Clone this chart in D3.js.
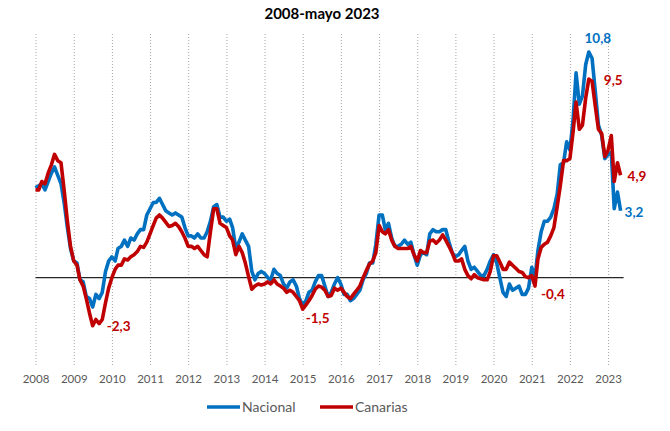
<!DOCTYPE html>
<html>
<head>
<meta charset="utf-8">
<script src="https://cdn.jsdelivr.net/npm/d3@7/dist/d3.min.js"></script>
<style>
  body { margin: 0; background: #fff; }
  svg { display: block; font-family: Lato, "Open Sans", sans-serif; }
</style>
</head>
<body>
<div id="chart"></div>
<script>

// IPC, tasa de variacion anual (%), enero 2008 - mayo 2023
var years = ['2008','2009','2010','2011','2012','2013','2014','2015',
             '2016','2017','2018','2019','2020','2021','2022','2023'];

var nacional = [
   4.3, 4.4, 4.5, 4.2, 4.6, 5.0, 5.3, 4.9, 4.5, 3.6, 2.4, 1.4,
   0.8, 0.7,-0.1,-0.2,-0.9,-1.0,-1.4,-0.8,-1.0,-0.7, 0.3, 0.8,
   1.0, 0.8, 1.4, 1.5, 1.8, 1.5, 1.9, 1.8, 2.1, 2.3, 2.3, 3.0,
   3.3, 3.6, 3.6, 3.8, 3.5, 3.2, 3.1, 3.0, 3.1, 3.0, 2.9, 2.4,
   2.0, 2.0, 1.9, 2.1, 1.9, 1.9, 2.2, 2.7, 3.4, 3.5, 2.9, 2.9,
   2.7, 2.8, 2.4, 1.4, 1.7, 2.1, 1.8, 1.5, 0.3,-0.1, 0.2, 0.3,
   0.2, 0.0,-0.1, 0.4, 0.2, 0.1,-0.3,-0.5,-0.2,-0.1,-0.4,-1.0,
  -1.3,-1.1,-0.7,-0.6,-0.2, 0.1, 0.1,-0.4,-0.9,-0.7,-0.3, 0.0,
  -0.3,-0.8,-0.8,-1.1,-1.0,-0.8,-0.6,-0.1, 0.2, 0.7, 0.7, 1.6,
   3.0, 3.0, 2.3, 2.6, 1.9, 1.5, 1.5, 1.6, 1.8, 1.6, 1.7, 1.1,
   0.6, 1.1, 1.2, 1.1, 2.1, 2.3, 2.2, 2.2, 2.3, 2.3, 1.7, 1.2,
   1.0, 1.1, 1.3, 1.5, 0.8, 0.4, 0.5, 0.3, 0.1, 0.1, 0.4, 0.8,
   1.1, 0.7, 0.0,-0.7,-0.9,-0.3,-0.6,-0.5,-0.4,-0.8,-0.8,-0.5,
   0.5, 0.0, 1.3, 2.2, 2.7, 2.7, 2.9, 3.3, 4.0, 5.4, 5.5, 6.5,
   6.1, 7.6, 9.8, 8.3, 8.7,10.2,10.8,10.5, 8.9, 7.3, 6.8, 5.7,
   5.9, 6.0, 3.3, 4.1, 3.2
];

var canarias = [
   4.2, 4.2, 4.6, 4.5, 5.0, 5.4, 5.9, 5.6, 5.5, 4.2, 2.7, 1.5,
   0.8, 0.6,-0.1,-0.4,-1.0,-1.7,-2.3,-2.0,-2.2,-2.0,-1.2,-0.5,
   0.0, 0.4, 0.6, 0.6, 0.9, 0.85,1.0, 1.1, 1.25,1.5, 1.45,1.7,
   2.1, 2.5, 2.85,3.0, 2.85,2.65,2.45,2.5, 2.6, 2.45,2.2, 1.9,
   1.5, 1.5, 1.4, 1.5, 1.3, 1.1, 1.0, 2.2, 3.3, 3.3, 2.6, 2.5,
   2.4, 2.0, 1.8, 1.1, 1.5, 1.2, 0.7, 0.05,-0.55,-0.4,-0.3,-0.35,
  -0.3,-0.2,-0.3,-0.1,-0.3,-0.4,-0.5,-0.7,-0.6,-0.7,-0.9,-1.1,
  -1.5,-1.3,-1.1,-0.85,-0.55,-0.4,-0.45,-0.6,-0.9,-0.85,-0.5,-0.6,
  -0.5,-0.7,-0.9,-1.0,-0.8,-0.6,-0.4, 0.0, 0.35,0.65,0.8, 1.2,
   2.5, 2.2, 2.1, 2.3, 1.8, 1.5, 1.4, 1.4, 1.4, 1.4, 1.5, 1.1,
   0.8, 1.3, 1.2, 1.2, 1.75,1.8, 1.65,1.8, 2.05,1.8, 1.5, 1.2,
   0.8, 0.8, 0.9, 0.4, 0.1,-0.05,0.15,0.0,-0.05,-0.1,-0.1, 0.3,
   1.05,1.05,0.75,0.4, 0.4, 0.75,0.6, 0.45,0.3, 0.25,0.05,0.0,
   0.1,-0.4, 0.9, 1.45,1.6, 1.7, 2.0, 2.4, 3.4, 4.4, 5.6, 5.6,
   5.7, 7.0, 8.4, 7.1, 7.3, 8.6, 9.5, 9.4, 8.2, 7.1, 6.9, 5.8,
   6.1, 6.8, 4.6, 5.5, 4.9
];

var seriesNames = ['Nacional', 'Canarias'];

// valores destacados: serie, mes (indice), texto
var highlights = [
  {serie: 'Nacional', idx: 174, text: '10,8'},
  {serie: 'Canarias', idx: 174, text: '9,5'},
  {serie: 'Canarias', idx: 184, text: '4,9'},
  {serie: 'Nacional', idx: 184, text: '3,2'},
  {serie: 'Canarias', idx: 18,  text: '-2,3'},
  {serie: 'Canarias', idx: 84,  text: '-1,5'},
  {serie: 'Canarias', idx: 157, text: '-0,4'}
];


var width = 670, height = 431;
var colors = {'Nacional': '#0070C0', 'Canarias': '#C00000'};
var gridTop = 33, gridBottom = 365;

var months = nacional.map(function(d, i){ return new Date(2008, i, 1); });
var values = {'Nacional': nacional, 'Canarias': canarias};

var x = d3.scaleTime()
    .domain([months[0], months[months.length - 1]])
    .range([35.5, 620.6]);

var y = d3.scaleLinear()
    .domain([-4, 12])
    .range([361.3, 26.9]);

var svg = d3.select('#chart').append('svg')
    .attr('width', width)
    .attr('height', height);

// title
svg.append('text')
    .attr('x', 322)
    .attr('y', 19)
    .attr('text-anchor', 'middle')
    .style('font-size', '15px')
    .style('font-weight', 'bold')
    .style('fill', '#000')
    .text('2008-mayo 2023');

// year gridlines + labels
var yearDates = years.map(function(d){ return new Date(+d, 0, 1); });

var axis = svg.append('g')
    .attr('transform', 'translate(0,' + gridBottom + ')')
    .call(d3.axisBottom(x)
        .tickValues(yearDates)
        .tickFormat(function(d, i){ return years[i]; })
        .tickSize(-(gridBottom - gridTop))
        .tickPadding(10));

axis.select('.domain').remove();
axis.selectAll('.tick line')
    .attr('stroke', '#a6a6a6')
    .attr('stroke-dasharray', '1,2');
axis.selectAll('.tick text')
    .style('font-size', '11.5px')
    .style('font-family', 'Lato, sans-serif')
    .style('fill', '#595959');

// zero line
svg.append('line')
    .attr('x1', x(months[0]))
    .attr('x2', x(months[months.length - 1]) + 3)
    .attr('y1', y(0))
    .attr('y2', y(0))
    .attr('stroke', '#262626')
    .attr('stroke-width', 1.2);

// series
var line = d3.line()
    .x(function(d, i){ return x(months[i]); })
    .y(function(d){ return y(d); })
    .curve(d3.curveLinear);

seriesNames.forEach(function(name){
    svg.append('path')
        .datum(values[name])
        .attr('fill', 'none')
        .attr('stroke', colors[name])
        .attr('stroke-width', 3.6)
        .attr('stroke-linejoin', 'round')
        .attr('d', line);
});

// highlighted values
var offsets = {
  '10,8': [9, -14, 'middle'],
  '9,5':  [15, 1, 'start'],
  '4,9':  [7, 1, 'start'],
  '3,2':  [4, 1, 'start'],
  '-2,3': [14, 1, 'start'],
  '-1,5': [3, 9, 'start'],
  '-0,4': [6, 8, 'start']
};

svg.selectAll('.hl')
    .data(highlights).enter()
    .append('text')
    .attr('class', 'hl')
    .attr('x', function(d){ return x(months[d.idx]) + offsets[d.text][0]; })
    .attr('y', function(d){ return y(values[d.serie][d.idx]) + offsets[d.text][1]; })
    .attr('dy', '0.35em')
    .attr('text-anchor', function(d){ return offsets[d.text][2]; })
    .style('font-size', '13.5px')
    .style('font-weight', 'bold')
    .style('fill', function(d){ return colors[d.serie]; })
    .text(function(d){ return d.text; });

// legend
var legend = svg.append('g')
    .attr('transform', 'translate(207,407)');

var legendX = [0, 113];
seriesNames.forEach(function(name, i){
    var g = legend.append('g').attr('transform', 'translate(' + legendX[i] + ',0)');
    g.append('line')
        .attr('x1', 0).attr('x2', 33)
        .attr('y1', 0).attr('y2', 0)
        .attr('stroke', colors[name])
        .attr('stroke-width', 3.6);
    g.append('text')
        .attr('x', 35)
        .attr('y', 0)
        .attr('dy', '0.35em')
        .style('font-size', '14px')
        .style('fill', '#595959')
        .text(name);
});

</script>
</body>
</html>
